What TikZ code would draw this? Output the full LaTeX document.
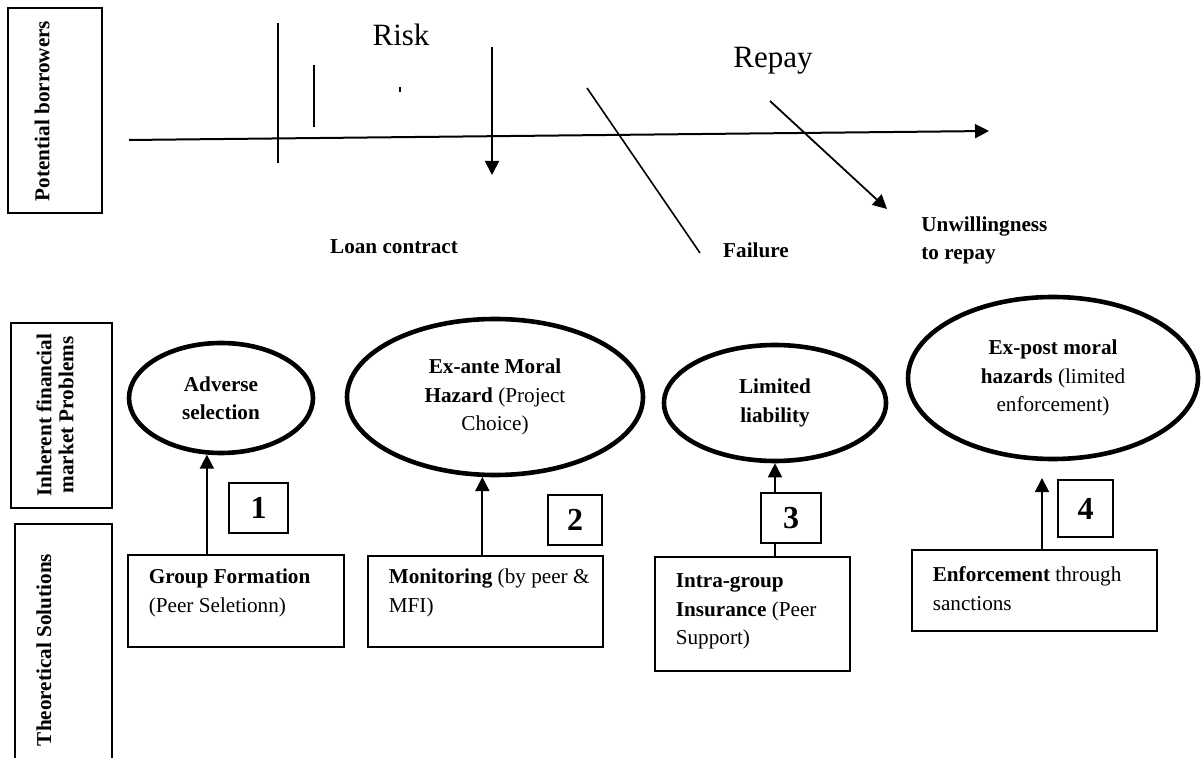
\documentclass[tikz,border=0pt]{standalone}
\usepackage{fontspec}
\setmainfont{Liberation Serif}
\usetikzlibrary{shapes.geometric,arrows.meta}

\begin{document}
\begin{tikzpicture}[x=0.5pt,y=-0.5pt,>={Triangle[length=7pt,width=7pt]},
  every node/.style={font=\fontsize{10.6}{14.2}\selectfont},
  side/.style={draw,line width=0.8pt,inner sep=0pt},
  sidetext/.style={rotate=90,align=center,inner sep=0pt,font=\fontsize{10.6}{11}\selectfont\bfseries},
  probl/.style={ellipse,draw,line width=2.3pt,align=center,inner sep=0pt},
  sol/.style={draw,line width=0.8pt,anchor=north west,align=flush left,inner xsep=10.5pt,inner ysep=4pt},
  num/.style={draw,fill=white,line width=0.8pt,inner sep=0pt,font=\fontsize{16}{16}\selectfont\bfseries},
  big/.style={inner sep=0pt,font=\fontsize{15.5}{18}\selectfont},
  lbl/.style={inner sep=0pt,font=\fontsize{10.6}{14}\selectfont\bfseries}]
  \useasboundingbox (0,0) rectangle (1202,758);
  \clip (0,0) rectangle (1202,758);

  \node[side,minimum width=47pt,minimum height=102.5pt] (pot) at (55,110.5) {};
  \node[sidetext] (pottxt) at (42,111) {Potential borrowers};
  \node[side,minimum width=50.5pt,minimum height=92.5pt] (inh) at (61.5,415.5) {};
  \node[sidetext] (inhtxt) at (55,415) {Inherent financial\\market Problems};
  \node[side,minimum width=48.5pt,minimum height=140pt] (theo) at (63.5,664) {};
  \node[sidetext] (theotxt) at (44,650) {Theoretical Solutions};

  \coordinate (t0) at (129,140);
  \coordinate (t1) at (989,131);
  \draw[line width=1pt,->] (t0) -- (t1);
  \draw[line width=0.9pt] (278,23) -- (278,163);
  \draw[line width=0.9pt] (314,65) -- (314,127);
  \draw[line width=0.6pt] (400,87) -- (400,92);
  \draw[line width=0.9pt,->] (492,47) -- (492,175);
  \draw[line width=0.8pt] (587,88) -- (700,253);
  \draw[line width=0.9pt,->] (770,101) -- (887,209);

  \node[big,anchor=base] (risk) at (401,46) {Risk};
  \node[big,anchor=base] (repay) at (773,68) {Repay};
  \node[lbl,anchor=base] (loan) at (394,254) {Loan contract};
  \node[lbl,anchor=base] (fail) at (756,258) {Failure};
  \node[lbl,anchor=west,align=left] (unw) at (921,240) {Unwillingness\\to repay};

  \node[probl,minimum width=92pt,minimum height=55pt] (adv) at (221,398) {\textbf{Adverse}\\\textbf{selection}};
  \node[probl,minimum width=148pt,minimum height=78pt] (exa) at (495,397) {\textbf{Ex-ante Moral}\\\textbf{Hazard} (Project\\Choice)};
  \node[probl,minimum width=111pt,minimum height=58pt] (lim) at (775,403) {\textbf{Limited}\\\textbf{liability}};
  \node[probl,minimum width=145pt,minimum height=81pt] (exp) at (1053,378) {\textbf{Ex-post moral}\\\textbf{hazards} (limited\\enforcement)};

  \node[sol,text width=87pt,text height=10.5pt,text depth=27.5pt] (grp) at (127,554) {\textbf{Group Formation}\\(Peer Seletionn)};
  \node[sol,text width=96.5pt,text height=10pt,text depth=27.5pt] (mon) at (367,555) {\mbox{\textbf{Monitoring} (by peer \&}\\MFI)};
  \node[sol,text width=76.5pt,text height=11.5pt,text depth=37.5pt] (ins) at (654,556) {\textbf{Intra-group}\\\textbf{Insurance} (Peer\\Support)};
  \node[sol,text width=101.5pt,text height=12pt,text depth=20.5pt] (enf) at (911,549) {\textbf{Enforcement} through\\sanctions};

  \coordinate (tip4) at (1042,478);
  \draw[line width=0.9pt,->] (grp.north -| adv.256) -- (adv.256);
  \draw[line width=0.9pt,->] (mon.north -| exa.261) -- (exa.261);
  \draw[line width=0.9pt,->] (ins.north -| lim.south) -- (lim.south);
  \draw[line width=0.9pt,->] (enf.north -| tip4) -- (tip4);

  \node[num,minimum width=29.5pt,minimum height=25pt] (n1) at (258.5,508) {1};
  \node[num,minimum width=27pt,minimum height=25pt] (n2) at (575,520) {2};
  \node[num,minimum width=30pt,minimum height=25pt] (n3) at (791,518) {3};
  \node[num,minimum width=27.5pt,minimum height=28.5pt] (n4) at (1085.5,508.5) {4};
\end{tikzpicture}
\end{document}
